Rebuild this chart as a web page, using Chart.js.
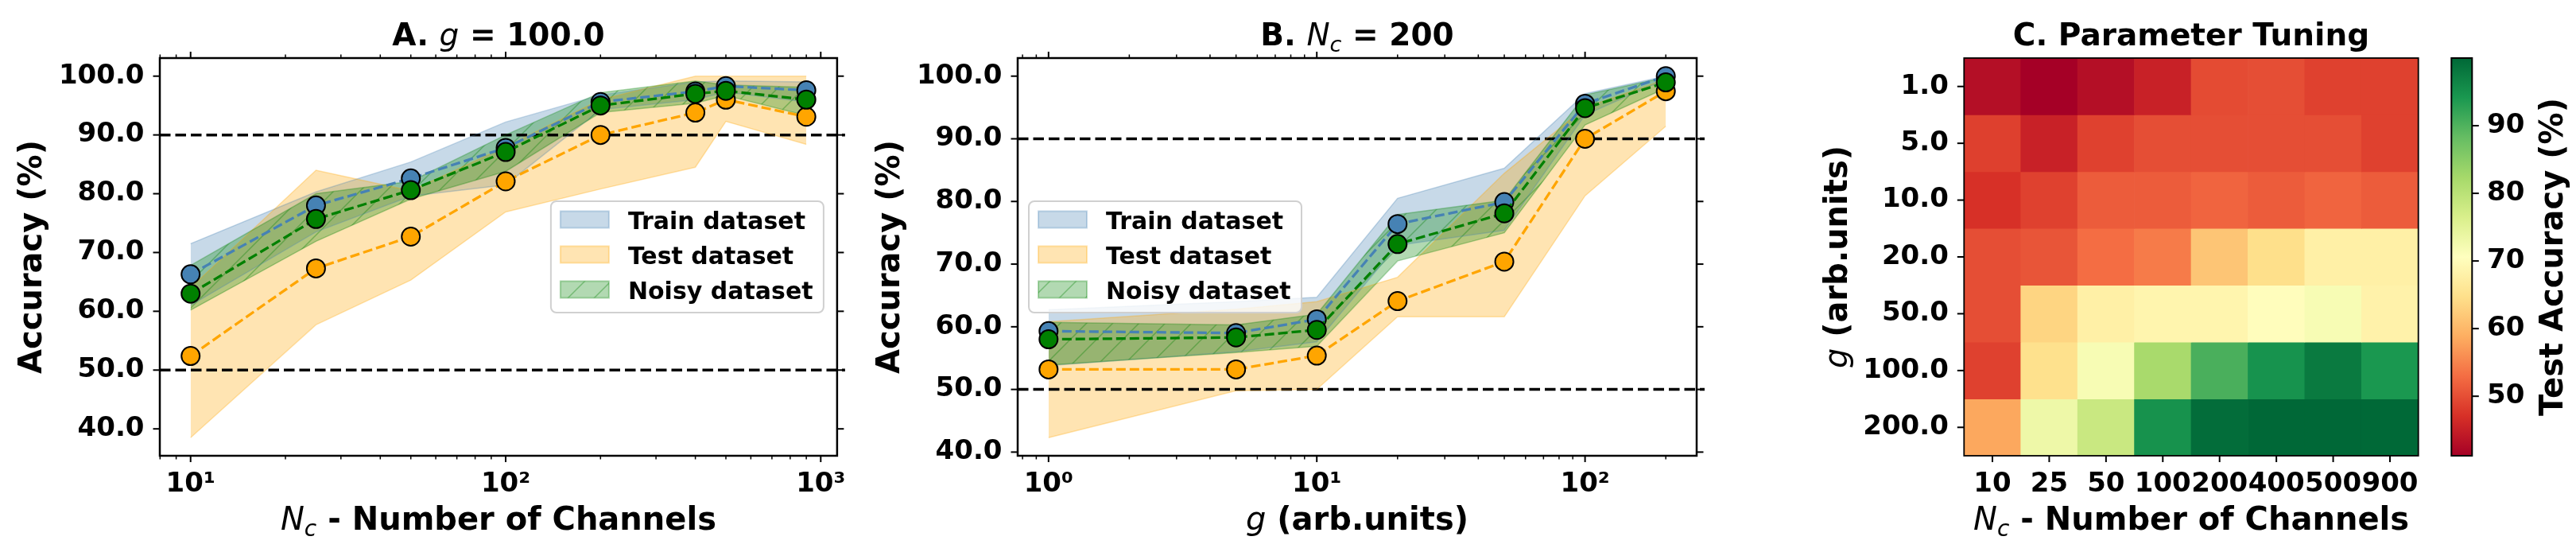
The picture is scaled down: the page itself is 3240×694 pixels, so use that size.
<!DOCTYPE html>
<html>
<head>
<meta charset="utf-8">
<script src="https://cdn.jsdelivr.net/npm/chart.js@4.4.0/dist/chart.umd.min.js"></script>
<style>
  html, body { margin: 0; padding: 0; background: #fff; }
  body { width: 3240px; height: 694px; position: relative; overflow: hidden; }
  canvas { position: absolute; top: 0; }
</style>
</head>
<body>
<canvas id="panelA" width="1080" height="694" style="left:0"></canvas>
<canvas id="panelB" width="1080" height="694" style="left:1080px"></canvas>
<canvas id="panelC" width="900" height="694" style="left:2160px"></canvas>
<canvas id="colorbar" width="190" height="694" style="left:3050px"></canvas>
<script>
// ---- Panel A: g = 100, sweep over number of channels ----
const channels = [10, 25, 50, 100, 200, 400, 500, 900];
const trainA = [66.3, 78.0, 82.6, 87.8, 95.6, 97.4, 98.3, 97.6];
const trainLowA = [61.0, 73.5, 79.6, 81.5, 94.3, 96.0, 97.3, 95.6];
const trainHighA = [71.5, 80.3, 85.4, 92.2, 96.8, 99.0, 99.2, 99.0];
const testA = [52.4, 67.3, 72.7, 82.1, 90.0, 93.8, 96.0, 93.1];
const testLowA = [38.5, 57.7, 65.3, 76.9, 80.8, 84.5, 92.3, 88.4];
const testHighA = [64.0, 84.0, 80.5, 88.0, 96.0, 100.0, 100.0, 100.0];
const noisyA = [63.0, 75.7, 80.6, 87.1, 95.0, 97.0, 97.5, 96.0];
const noisyLowA = [60.2, 71.9, 79.1, 83.8, 93.8, 95.4, 96.7, 93.3];
const noisyHighA = [67.8, 80.0, 82.1, 90.0, 97.2, 99.2, 98.5, 98.1];

// ---- Panel B: Nc = 200, sweep over g ----
const gValues = [1, 5, 10, 20, 50, 100, 200];
const trainB = [59.3, 59.0, 61.2, 76.4, 79.9, 95.6, 100.0];
const trainLowB = [53.8, 56.0, 57.6, 73.0, 75.4, 93.8, 99.5];
const trainHighB = [62.7, 64.0, 64.7, 80.5, 85.3, 97.2, 100.0];
const testB = [53.2, 53.2, 55.4, 64.1, 70.4, 90.0, 97.6];
const testLowB = [42.3, 49.8, 50.0, 61.6, 61.6, 80.9, 92.0];
const testHighB = [60.8, 62.8, 64.0, 67.9, 84.5, 95.0, 99.5];
const noisyB = [58.0, 58.3, 59.5, 73.2, 78.1, 94.9, 99.0];
const noisyLowB = [53.9, 55.9, 56.9, 70.5, 75.0, 92.2, 98.1];
const noisyHighB = [60.7, 60.3, 62.0, 77.9, 80.2, 97.0, 99.8];

// ---- Panel C: test accuracy grid (rows = g, cols = Nc) ----
const heatG = ['1.0', '5.0', '10.0', '20.0', '50.0', '100.0', '200.0'];
const heatNc = ['10', '25', '50', '100', '200', '400', '500', '900'];
const testAccGrid = [
    [43.0, 41.2, 43.0, 45.3, 49.7, 50.0, 48.7, 48.7],
    [48.6, 45.3, 48.7, 50.0, 50.0, 50.0, 50.0, 48.7],
    [47.1, 48.7, 51.3, 51.3, 52.1, 51.3, 52.1, 51.3],
    [50.0, 50.6, 53.0, 54.2, 61.6, 64.7, 67.8, 67.8],
    [50.0, 63.4, 67.8, 68.7, 68.7, 70.3, 71.8, 68.2],
    [48.7, 65.0, 71.8, 82.0, 90.4, 94.7, 97.8, 94.1],
    [58.3, 73.2, 78.3, 94.8, 99.4, 100.0, 100.0, 99.9]
];

// ticks and reference lines
const accTicks = [40, 50, 60, 70, 80, 90, 100];
const thresholds = [50, 90];
const decadesA = [10, 100, 1000];
const decadeLabelsA = ['10¹', '10²', '10³'];
const decadesB = [1, 10, 100];
const decadeLabelsB = ['10⁰', '10¹', '10²'];
const cbarTicks = [50, 60, 70, 80, 90];
const seriesNames = ['Train dataset', 'Test dataset', 'Noisy dataset'];

const FAMILY = '"DejaVu Sans"';
const bold = s => `bold ${s}px ${FAMILY}`;
const ital = s => `italic ${s}px ${FAMILY}`;
Chart.defaults.font.family = FAMILY;
Chart.defaults.color = '#000';

const BLUE = '70,130,180', ORANGE = '255,165,0', GREEN = '0,128,0';
const rgba = (rgb, a) => `rgba(${rgb},${a})`;

// RdYlGn colormap
const rdYlGn = ['#a50026', '#d73027', '#f46d43', '#fdae61', '#fee08b', '#ffffbf',
    '#d9ef8b', '#a6d96a', '#66bd63', '#1a9850', '#006837'];
function cmap(t) {
    t = Math.min(1, Math.max(0, t));
    const p = t * (rdYlGn.length - 1);
    const i = Math.min(Math.floor(p), rdYlGn.length - 2);
    const f = p - i;
    const a = parseInt(rdYlGn[i].slice(1), 16), b = parseInt(rdYlGn[i + 1].slice(1), 16);
    const ch = sh => Math.round(((a >> sh) & 255) * (1 - f) + ((b >> sh) & 255) * f);
    return `rgb(${ch(16)},${ch(8)},${ch(0)})`;
}

// hatched fill for the noisy band
function hatch(rgb) {
    const n = 33;
    const c = document.createElement('canvas');
    c.width = c.height = n;
    const g = c.getContext('2d');
    g.fillStyle = rgba(rgb, 0.3);
    g.fillRect(0, 0, n, n);
    g.strokeStyle = rgba(rgb, 0.35);
    g.lineWidth = 1.5;
    g.beginPath();
    g.moveTo(0, n); g.lineTo(n, 0);
    g.moveTo(-2, 2); g.lineTo(2, -2);
    g.moveTo(n - 2, n + 2); g.lineTo(n + 2, n - 2);
    g.stroke();
    return g.createPattern(c, 'repeat');
}

// matplotlib-like 5% autoscale margins
function padLog(vals) {
    const a = Math.log10(Math.min(...vals)), b = Math.log10(Math.max(...vals)), m = (b - a) * 0.05;
    return [10 ** (a - m), 10 ** (b + m)];
}
function padLin(vals) {
    const a = Math.min(...vals), b = Math.max(...vals), m = (b - a) * 0.05;
    return [a - m, b + m];
}

const pts = (xs, ys) => xs.map((x, i) => ({ x, y: ys[i] }));

function band(xs, lo, hi, rgb, fill, order) {
    const edge = { borderColor: rgba(rgb, 0.3), borderWidth: 1.5, pointRadius: 0, order };
    return [
        { ...edge, data: pts(xs, lo), fill: false },
        { ...edge, data: pts(xs, hi), fill: '-1', backgroundColor: fill }
    ];
}
function series(xs, ys, rgb, order) {
    return {
        data: pts(xs, ys), order, fill: false,
        borderColor: `rgb(${rgb})`, borderWidth: 3.3, borderDash: [12, 5],
        pointRadius: 11.5, pointHoverRadius: 11.5, pointBorderWidth: 2,
        pointBackgroundColor: `rgb(${rgb})`, pointBorderColor: '#000'
    };
}

// rich text (mixed bold / italic math) centred at x, baseline y
function drawRich(ctx, parts, x, y, rotate) {
    ctx.save();
    ctx.translate(x, y);
    if (rotate) ctx.rotate(-Math.PI / 2);
    ctx.fillStyle = '#000';
    ctx.textBaseline = 'alphabetic';
    let total = 0;
    parts.forEach(p => { ctx.font = p.font; p.w = ctx.measureText(p.text).width; total += p.w; });
    let cx = -total / 2;
    parts.forEach(p => { ctx.font = p.font; ctx.fillText(p.text, cx, p.dy || 0); cx += p.w; });
    ctx.restore();
}

const richLabels = {
    id: 'richLabels',
    afterDraw(chart, args, o) {
        const { ctx, chartArea: a } = chart;
        const cx = (a.left + a.right) / 2, cy = (a.top + a.bottom) / 2;
        if (o.title) drawRich(ctx, o.title, cx, 57);
        if (o.xLabel) drawRich(ctx, o.xLabel, cx, 666);
        if (o.yLabel) drawRich(ctx, o.yLabel, o.yRight ? a.right + o.yGap : a.left - o.yGap, cy, true);
    }
};

const refLines = {
    id: 'refLines',
    beforeDatasetsDraw(chart, args, o) {
        if (!o.values) return;
        const { ctx, chartArea: a, scales: { y } } = chart;
        ctx.save();
        ctx.strokeStyle = '#000';
        ctx.lineWidth = 3.5;
        ctx.setLineDash([13.5, 6]);
        o.values.forEach(v => {
            const py = y.getPixelForValue(v);
            ctx.beginPath(); ctx.moveTo(a.left, py); ctx.lineTo(a.right + 10, py); ctx.stroke();
        });
        ctx.restore();
    }
};

// frame + outward tick marks (major and log minor)
const axesFrame = {
    id: 'axesFrame',
    afterDraw(chart, args, o) {
        const { ctx, chartArea: a, scales } = chart;
        const xs = scales.x, ys = scales.y;
        const sides = o.sides || [];
        ctx.save();
        ctx.strokeStyle = '#000';
        const seg = (x1, y1, x2, y2, w) => {
            ctx.lineWidth = w; ctx.beginPath(); ctx.moveTo(x1, y1); ctx.lineTo(x2, y2); ctx.stroke();
        };
        const xTick = (px, len, w) => {
            if (sides.includes('bottom')) seg(px, a.bottom, px, a.bottom + len, w);
            if (sides.includes('top')) seg(px, a.top, px, a.top - len, w);
        };
        const yTick = (py, len, w) => {
            if (sides.includes('left')) seg(a.left, py, a.left - len, py, w);
            if (sides.includes('right')) seg(a.right, py, a.right + len, py, w);
        };
        if (xs && xs.options.display !== false) {
            xs.ticks.forEach((t, i) => xTick(xs.getPixelForTick(i), 8, 2));
            if (o.minor) {
                for (let n = Math.floor(Math.log10(xs.min)); n <= Math.ceil(Math.log10(xs.max)); n++) {
                    for (let k = 2; k <= 9; k++) {
                        const v = k * 10 ** n;
                        if (v > xs.min && v < xs.max) xTick(xs.getPixelForValue(v), 4.5, 1.5);
                    }
                }
            }
        }
        ys.ticks.forEach((t, i) => yTick(ys.getPixelForTick(i), 8.5, 2));
        ctx.lineWidth = o.frameWidth || 2.5;
        ctx.strokeRect(a.left, a.top, a.right - a.left, a.bottom - a.top);
        ctx.restore();
    }
};

// framed legend placed at the vertical centre of the axes
const boxLegend = {
    id: 'boxLegend',
    afterDraw(chart, args, o) {
        if (!o.items) return;
        const { ctx, chartArea: a } = chart;
        const w = 343, h = 140;
        const x0 = o.side === 'right' ? a.right - 17 - w : a.left + 14;
        const y0 = (a.top + a.bottom) / 2 - h / 2;
        ctx.save();
        ctx.beginPath();
        ctx.roundRect(x0, y0, w, h, 7);
        ctx.fillStyle = 'rgba(255,255,255,0.8)';
        ctx.fill();
        ctx.strokeStyle = '#d0d0d0';
        ctx.lineWidth = 2;
        ctx.stroke();
        o.items.forEach((it, i) => {
            const cy = y0 + 23 + i * 44;
            ctx.fillStyle = it.fill;
            ctx.fillRect(x0 + 12, cy - 10.5, 61, 21);
            ctx.strokeStyle = it.edge;
            ctx.lineWidth = 2;
            ctx.strokeRect(x0 + 12, cy - 10.5, 61, 21);
            ctx.fillStyle = '#000';
            ctx.font = bold(30);
            ctx.textBaseline = 'alphabetic';
            ctx.fillText(it.text, x0 + 97, cy + 11.5);
        });
        ctx.restore();
    }
};

const gradientBar = {
    id: 'gradientBar',
    beforeDatasetsDraw(chart, args, o) {
        if (!o.on) return;
        const { ctx, chartArea: a } = chart;
        const gr = ctx.createLinearGradient(0, a.bottom, 0, a.top);
        rdYlGn.forEach((c, i) => gr.addColorStop(i / (rdYlGn.length - 1), c));
        ctx.fillStyle = gr;
        ctx.fillRect(a.left, a.top, a.right - a.left, a.bottom - a.top);
    }
};

const tickFont = { size: 34, weight: 'bold', family: FAMILY };
const noGrid = { display: false, drawTicks: false };

function lineChart(id, xs, groups, decades, decadeLabels, yWidth, padRight, labels, legendSide) {
    const [tr, trLo, trHi, te, teLo, teHi, no, noLo, noHi] = groups;
    const [xMin, xMax] = padLog(xs);
    const [yMin, yMax] = padLin([...trLo, ...trHi, ...teLo, ...teHi, ...noLo, ...noHi]);
    const noisyFill = hatch(GREEN);
    return new Chart(document.getElementById(id), {
        type: 'line',
        data: {
            datasets: [
                ...band(xs, trLo, trHi, BLUE, rgba(BLUE, 0.3), 6),
                ...band(xs, teLo, teHi, ORANGE, rgba(ORANGE, 0.3), 5),
                ...band(xs, noLo, noHi, GREEN, noisyFill, 4),
                series(xs, tr, BLUE, 2),
                series(xs, te, ORANGE, 1),
                series(xs, no, GREEN, 0)
            ]
        },
        options: {
            responsive: false, animation: false, devicePixelRatio: 1, events: [],
            layout: { padding: { top: 73, right: padRight, left: 0, bottom: 0 } },
            scales: {
                x: {
                    type: 'logarithmic', min: xMin, max: xMax,
                    grid: noGrid, border: { display: false },
                    afterBuildTicks: s => { s.ticks = decades.map(v => ({ value: v })); },
                    afterFit: s => { s.height = 121; },
                    ticks: { font: tickFont, padding: 16, autoSkip: false, maxRotation: 0, callback: (v, i) => decadeLabels[i] }
                },
                y: {
                    min: yMin, max: yMax,
                    grid: noGrid, border: { display: false },
                    afterBuildTicks: s => { s.ticks = accTicks.map(v => ({ value: v })); },
                    afterFit: s => { s.width = yWidth; },
                    ticks: { font: tickFont, padding: 19.5, callback: v => v.toFixed(1) }
                }
            },
            plugins: {
                legend: { display: false }, tooltip: { enabled: false },
                filler: { drawTime: 'beforeDatasetsDraw' },
                refLines: { values: thresholds },
                axesFrame: { sides: ['bottom', 'top', 'left', 'right'], minor: true, frameWidth: 2.5 },
                richLabels: labels,
                boxLegend: {
                    side: legendSide,
                    items: [
                        { text: seriesNames[0], fill: rgba(BLUE, 0.3), edge: rgba(BLUE, 0.3) },
                        { text: seriesNames[1], fill: rgba(ORANGE, 0.3), edge: rgba(ORANGE, 0.3) },
                        { text: seriesNames[2], fill: noisyFill, edge: rgba(GREEN, 0.3) }
                    ]
                }
            }
        },
        plugins: [refLines, axesFrame, boxLegend, richLabels]
    });
}

const ncLabel = [
    { text: 'N', font: ital(40) }, { text: 'c', font: ital(28), dy: 8 },
    { text: ' - Number of Channels', font: bold(40) }
];
const gLabel = [{ text: 'g', font: ital(40) }, { text: ' (arb.units)', font: bold(40) }];
const accLabel = [{ text: 'Accuracy (%)', font: bold(40) }];

lineChart('panelA', channels,
    [trainA, trainLowA, trainHighA, testA, testLowA, testHighA, noisyA, noisyLowA, noisyHighA],
    decadesA, decadeLabelsA, 201, 25,
    {
        title: [{ text: 'A. ', font: bold(39) }, { text: 'g', font: ital(39) }, { text: ' = 100.0', font: bold(39) }],
        xLabel: ncLabel, yLabel: accLabel, yGap: 149
    }, 'right');

lineChart('panelB', gValues,
    [trainB, trainLowB, trainHighB, testB, testLowB, testHighB, noisyB, noisyLowB, noisyHighB],
    decadesB, decadeLabelsB, 200, 26,
    {
        title: [{ text: 'B. ', font: bold(39) }, { text: 'N', font: ital(39) },
            { text: 'c', font: ital(27), dy: 8 }, { text: ' = 200', font: bold(39) }],
        xLabel: gLabel, yLabel: accLabel, yGap: 149
    }, 'left');

// ---- Panel C heatmap: one stacked bar per cell, coloured by accuracy ----
const cbMin = 41.2, cbMax = 100;
new Chart(document.getElementById('panelC'), {
    type: 'bar',
    data: {
        labels: heatNc,
        datasets: heatG.map((g, r) => ({
            label: g,
            data: heatNc.map(() => 1),
            backgroundColor: testAccGrid[r].map(v => cmap((v - cbMin) / (cbMax - cbMin))),
            borderWidth: 0, barPercentage: 1, categoryPercentage: 1
        }))
    },
    options: {
        responsive: false, animation: false, devicePixelRatio: 1, events: [],
        layout: { padding: { top: 73, right: 18.3, left: 0, bottom: 0 } },
        scales: {
            x: {
                stacked: true, grid: noGrid, border: { display: false },
                afterFit: s => { s.height = 121; },
                ticks: { font: tickFont, padding: 16, autoSkip: false, maxRotation: 0, minRotation: 0 }
            },
            y: {
                stacked: true, reverse: true, min: 0, max: heatG.length,
                grid: noGrid, border: { display: false },
                afterBuildTicks: s => { s.ticks = heatG.map((g, i) => ({ value: i + 0.5 })); },
                afterFit: s => { s.width = 310.3; },
                ticks: { font: tickFont, padding: 19.5, callback: (v, i) => heatG[i] }
            }
        },
        plugins: {
            legend: { display: false }, tooltip: { enabled: false },
            axesFrame: { sides: ['bottom', 'left'], minor: false, frameWidth: 1.8 },
            richLabels: {
                title: [{ text: 'C. Parameter Tuning', font: bold(39) }],
                xLabel: ncLabel, yLabel: gLabel, yGap: 147
            }
        }
    },
    plugins: [axesFrame, richLabels]
});

// ---- colour bar ----
new Chart(document.getElementById('colorbar'), {
    type: 'bar',
    data: { labels: [''], datasets: [] },
    options: {
        responsive: false, animation: false, devicePixelRatio: 1, events: [],
        layout: { padding: { top: 73, right: 0, left: 33.3, bottom: 121 } },
        scales: {
            x: { display: false },
            y: {
                position: 'right', min: cbMin, max: cbMax,
                grid: noGrid, border: { display: false },
                afterBuildTicks: s => { s.ticks = cbarTicks.map(v => ({ value: v })); },
                afterFit: s => { s.width = 130.7; },
                ticks: { font: tickFont, padding: 18.7, callback: v => String(v) }
            }
        },
        plugins: {
            legend: { display: false }, tooltip: { enabled: false },
            gradientBar: { on: true },
            axesFrame: { sides: ['right'], minor: false, frameWidth: 2 },
            richLabels: { yLabel: [{ text: 'Test Accuracy (%)', font: bold(40) }], yRight: true, yGap: 114 }
        }
    },
    plugins: [gradientBar, axesFrame, richLabels]
});
</script>
</body>
</html>
